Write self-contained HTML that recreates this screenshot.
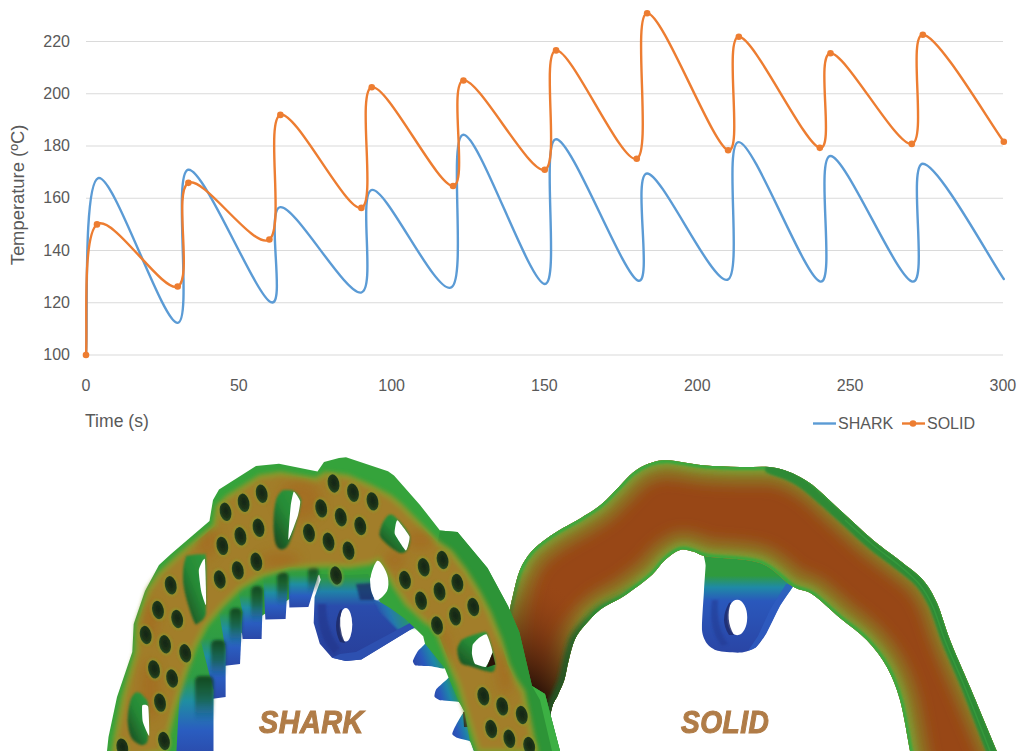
<!DOCTYPE html>
<html><head><meta charset="utf-8">
<style>
html,body{margin:0;padding:0;background:#fff;}
body{width:1024px;height:751px;position:relative;overflow:hidden;font-family:"Liberation Sans",sans-serif;color:#595959;}
.yl{position:absolute;left:20px;width:50px;text-align:right;font-size:16px;line-height:20px;}
.xl{position:absolute;top:375.5px;width:60px;text-align:center;font-size:16px;line-height:20px;}
.ytitle{position:absolute;left:18px;top:195px;transform:translate(-50%,-50%) rotate(-90deg);font-size:18.4px;white-space:nowrap;line-height:20px;}
.xtitle{position:absolute;left:85px;top:411px;font-size:17.6px;line-height:20px;white-space:nowrap;}
.leg{position:absolute;top:414px;font-size:16px;line-height:20px;}
.lab{position:absolute;top:702px;font-family:"Liberation Sans",sans-serif;font-weight:bold;font-style:italic;font-size:32px;line-height:40px;color:#b07c47;white-space:nowrap;transform-origin:0 0;-webkit-text-stroke:1.1px #b07c47;letter-spacing:0.5px;}
</style></head><body>
<svg class="chart" width="1024" height="450" viewBox="0 0 1024 450" style="position:absolute;left:0;top:0">
<line x1="86" y1="355.00" x2="1003" y2="355.00" stroke="#dadada" stroke-width="1.2"/>
<line x1="86" y1="302.75" x2="1003" y2="302.75" stroke="#dadada" stroke-width="1.2"/>
<line x1="86" y1="250.50" x2="1003" y2="250.50" stroke="#dadada" stroke-width="1.2"/>
<line x1="86" y1="198.25" x2="1003" y2="198.25" stroke="#dadada" stroke-width="1.2"/>
<line x1="86" y1="146.00" x2="1003" y2="146.00" stroke="#dadada" stroke-width="1.2"/>
<line x1="86" y1="93.75" x2="1003" y2="93.75" stroke="#dadada" stroke-width="1.2"/>
<line x1="86" y1="41.50" x2="1003" y2="41.50" stroke="#dadada" stroke-width="1.2"/>
<path d="M86.00,355.00 C88.04,325.52 82.94,183.49 98.23,178.13 C113.51,172.78 162.71,324.26 177.69,322.87 C192.66,321.47 172.54,173.21 188.08,169.77 C203.62,166.33 255.52,296.00 270.91,302.23 C286.29,308.45 265.35,208.74 280.38,207.13 C295.41,205.52 345.73,295.43 361.07,292.56 C376.40,289.69 357.30,190.76 372.38,189.89 C387.45,189.02 436.35,296.52 451.53,287.34 C466.71,278.15 447.92,135.33 463.45,134.77 C478.99,134.20 529.32,283.20 544.75,283.94 C560.18,284.68 540.52,139.77 556.06,139.21 C571.60,138.64 622.79,274.84 637.97,280.54 C653.15,286.25 632.21,173.56 647.14,173.43 C662.06,173.30 712.24,284.99 727.52,279.76 C742.80,274.53 723.34,141.78 738.83,142.08 C754.31,142.39 805.15,279.28 820.43,281.59 C835.71,283.90 815.13,155.93 830.51,155.93 C845.90,155.93 897.35,280.28 912.73,281.59 C928.11,282.89 907.64,164.20 922.81,163.77 C937.99,163.33 990.31,259.77 1003.81,278.98" fill="none" stroke="#5b9bd5" stroke-width="2.4" stroke-linecap="round" stroke-linejoin="round"/>
<path d="M86.00,355.00 C87.83,333.23 81.72,235.78 97.00,224.38 C112.28,212.97 162.46,293.48 177.69,286.55 C192.92,279.63 173.10,190.67 188.39,182.84 C203.67,175.00 254.05,250.85 269.38,239.53 C284.71,228.21 265.05,120.18 280.38,114.91 C295.71,109.64 346.14,212.53 361.37,207.92 C376.60,203.30 356.48,90.88 371.76,87.22 C387.05,83.56 437.78,187.10 453.06,185.97 C468.34,184.84 448.17,83.13 463.45,80.43 C478.73,77.73 529.32,174.78 544.75,169.77 C560.18,164.77 540.73,52.21 556.06,50.38 C571.39,48.55 621.57,164.98 636.75,158.80 C651.92,152.62 631.91,14.72 647.14,13.28 C662.37,11.85 712.85,146.26 728.13,150.18 C743.41,154.10 723.54,37.19 738.83,36.80 C754.11,36.41 804.54,145.09 819.82,147.83 C835.10,150.57 815.18,53.91 830.51,53.26 C845.85,52.60 896.43,147.00 911.81,143.91 C927.20,140.82 907.48,35.06 922.81,34.71 C938.15,34.36 990.31,123.97 1003.81,141.82" fill="none" stroke="#ed7d31" stroke-width="2.4" stroke-linecap="round" stroke-linejoin="round"/>
<circle cx="86.00" cy="355.00" r="3.3" fill="#ed7d31"/>
<circle cx="97.00" cy="224.38" r="3.3" fill="#ed7d31"/>
<circle cx="177.69" cy="286.55" r="3.3" fill="#ed7d31"/>
<circle cx="188.39" cy="182.84" r="3.3" fill="#ed7d31"/>
<circle cx="269.38" cy="239.53" r="3.3" fill="#ed7d31"/>
<circle cx="280.38" cy="114.91" r="3.3" fill="#ed7d31"/>
<circle cx="361.37" cy="207.92" r="3.3" fill="#ed7d31"/>
<circle cx="371.76" cy="87.22" r="3.3" fill="#ed7d31"/>
<circle cx="453.06" cy="185.97" r="3.3" fill="#ed7d31"/>
<circle cx="463.45" cy="80.43" r="3.3" fill="#ed7d31"/>
<circle cx="544.75" cy="169.77" r="3.3" fill="#ed7d31"/>
<circle cx="556.06" cy="50.38" r="3.3" fill="#ed7d31"/>
<circle cx="636.75" cy="158.80" r="3.3" fill="#ed7d31"/>
<circle cx="647.14" cy="13.28" r="3.3" fill="#ed7d31"/>
<circle cx="728.13" cy="150.18" r="3.3" fill="#ed7d31"/>
<circle cx="738.83" cy="36.80" r="3.3" fill="#ed7d31"/>
<circle cx="819.82" cy="147.83" r="3.3" fill="#ed7d31"/>
<circle cx="830.51" cy="53.26" r="3.3" fill="#ed7d31"/>
<circle cx="911.81" cy="143.91" r="3.3" fill="#ed7d31"/>
<circle cx="922.81" cy="34.71" r="3.3" fill="#ed7d31"/>
<circle cx="1003.81" cy="141.82" r="3.3" fill="#ed7d31"/>
<line x1="813" y1="423.5" x2="836" y2="423.5" stroke="#5b9bd5" stroke-width="2.4"/>
<line x1="902" y1="423.5" x2="925" y2="423.5" stroke="#ed7d31" stroke-width="2.4"/>
<circle cx="913" cy="423.5" r="3.3" fill="#ed7d31"/>
</svg>
<div class="yl" style="top:345.0px">100</div>
<div class="yl" style="top:292.8px">120</div>
<div class="yl" style="top:240.5px">140</div>
<div class="yl" style="top:188.2px">160</div>
<div class="yl" style="top:136.0px">180</div>
<div class="yl" style="top:83.8px">200</div>
<div class="yl" style="top:31.5px">220</div>
<div class="xl" style="left:56.0px">0</div>
<div class="xl" style="left:208.8px">50</div>
<div class="xl" style="left:361.6px">100</div>
<div class="xl" style="left:514.4px">150</div>
<div class="xl" style="left:667.3px">200</div>
<div class="xl" style="left:820.1px">250</div>
<div class="xl" style="left:972.9px">300</div>
<div class="ytitle">Temperature (ºC)</div>
<div class="xtitle">Time (s)</div>
<div class="leg" style="left:838px">SHARK</div>
<div class="leg" style="left:927px">SOLID</div>
<svg width="1024" height="751" viewBox="0 0 1024 751" style="position:absolute;left:0;top:0">
<defs>
<filter id="blur1" x="-20%" y="-20%" width="140%" height="140%"><feGaussianBlur stdDeviation="1"/></filter>
<filter id="blur15" x="-20%" y="-20%" width="140%" height="140%"><feGaussianBlur stdDeviation="1.5"/></filter>
<filter id="blur7" x="-20%" y="-20%" width="140%" height="140%"><feGaussianBlur stdDeviation="7"/></filter>
<filter id="blur2" x="-10%" y="-10%" width="120%" height="120%"><feGaussianBlur stdDeviation="2"/></filter>
<filter id="blur3" x="-10%" y="-10%" width="120%" height="120%"><feGaussianBlur stdDeviation="3"/></filter>
<filter id="blur4" x="-20%" y="-20%" width="140%" height="140%"><feGaussianBlur stdDeviation="4"/></filter>
<filter id="blur20" x="-100%" y="-100%" width="300%" height="300%"><feGaussianBlur stdDeviation="20"/></filter>
<filter id="blur6" x="-50%" y="-50%" width="200%" height="200%"><feGaussianBlur stdDeviation="6"/></filter>
<linearGradient id="gTooth" x1="0" y1="0" x2="0" y2="1">
  <stop offset="0" stop-color="#35a33b"/><stop offset="0.3" stop-color="#2f9c44"/><stop offset="0.5" stop-color="#1f8ea2"/><stop offset="0.75" stop-color="#2a5dc0"/><stop offset="1" stop-color="#2b48a8"/>
</linearGradient>
<linearGradient id="gToothL" x1="0" y1="0" x2="1" y2="0">
  <stop offset="0" stop-color="#0e2a20" stop-opacity="0.4"/><stop offset="0.45" stop-color="#0e2a20" stop-opacity="0.1"/><stop offset="1" stop-color="#0e2a20" stop-opacity="0"/>
</linearGradient>
<linearGradient id="gArm" x1="372" y1="618" x2="418" y2="598" gradientUnits="userSpaceOnUse">
  <stop offset="0" stop-color="#2a52b0" stop-opacity="0"/><stop offset="0.35" stop-color="#2478b0"/><stop offset="0.7" stop-color="#2a9a60"/><stop offset="1" stop-color="#35a33b"/>
</linearGradient>
<linearGradient id="gToothR" x1="1" y1="0.3" x2="0" y2="0.7">
  <stop offset="0" stop-color="#2f9a3e"/><stop offset="0.3" stop-color="#2a9a50"/><stop offset="0.55" stop-color="#1d86a8"/><stop offset="0.8" stop-color="#2a58bc"/><stop offset="1" stop-color="#2b4aab"/>
</linearGradient>
<linearGradient id="gBrk" x1="0" y1="562" x2="0" y2="660" gradientUnits="userSpaceOnUse">
  <stop offset="0" stop-color="#2f9a3e"/><stop offset="0.15" stop-color="#2f9a3e"/><stop offset="0.3" stop-color="#2082a8"/><stop offset="0.45" stop-color="#2a4cac"/><stop offset="1" stop-color="#283f9a"/>
</linearGradient>
<linearGradient id="gBrk2" x1="0" y1="552" x2="0" y2="650" gradientUnits="userSpaceOnUse">
  <stop offset="0" stop-color="#2f9a3e"/><stop offset="0.24" stop-color="#2f9a3e"/><stop offset="0.36" stop-color="#1f8aa6"/><stop offset="0.5" stop-color="#2a58bc"/><stop offset="1" stop-color="#2a46a6"/>
</linearGradient>
<linearGradient id="gSolid" x1="520" y1="720" x2="700" y2="480" gradientUnits="userSpaceOnUse">
  <stop offset="0" stop-color="#3a1c0a"/><stop offset="0.45" stop-color="#8a3f16"/><stop offset="1" stop-color="#974515"/>
</linearGradient>
<radialGradient id="rSolidDark" cx="532" cy="720" r="150" gradientUnits="userSpaceOnUse" gradientTransform="translate(532 720) rotate(-25) scale(0.7 1.1) translate(-532 -720)">
  <stop offset="0" stop-color="#1e0c04"/><stop offset="0.22" stop-color="#2e1408"/><stop offset="0.5" stop-color="#5a280e" stop-opacity="0.75"/><stop offset="1" stop-color="#954315" stop-opacity="0"/>
</radialGradient>
<filter id="blur05" x="-20%" y="-20%" width="140%" height="140%"><feGaussianBlur stdDeviation="0.6"/></filter>
<radialGradient id="rHole" cx="0.55" cy="0.45" r="0.6">
  <stop offset="0" stop-color="#162616"/><stop offset="0.6" stop-color="#1c3219"/><stop offset="1" stop-color="#2c5024"/>
</radialGradient>
<linearGradient id="gSlot" x1="1" y1="0" x2="0.2" y2="1">
  <stop offset="0" stop-color="#2f9a3e"/><stop offset="0.5" stop-color="#268a36"/><stop offset="1" stop-color="#1a4d22"/>
</linearGradient>
<linearGradient id="gRimDark" x1="640" y1="580" x2="570" y2="660" gradientUnits="userSpaceOnUse">
  <stop offset="0" stop-color="#1e5a26" stop-opacity="0"/><stop offset="1" stop-color="#1e5a26" stop-opacity="0.85"/>
</linearGradient>
<linearGradient id="gShade" x1="0" y1="0" x2="0" y2="1">
  <stop offset="0" stop-color="#0f3f1a" stop-opacity="0.9"/><stop offset="0.55" stop-color="#124a2a" stop-opacity="0.55"/><stop offset="1" stop-color="#1a3a80" stop-opacity="0"/>
</linearGradient>
</defs>
<path d="M706.0,545.0 C699.5,546.3 705.9,560.4 705.6,566.0 C705.3,571.6 704.3,584.3 703.9,592.0 C703.5,599.7 701.6,623.8 702.0,630.0 C702.4,636.2 705.4,641.5 707.3,644.0 C709.2,646.5 713.8,649.8 717.7,650.8 C721.6,651.8 735.6,653.0 740.2,652.6 C744.8,652.2 752.7,649.7 755.8,647.4 C758.9,645.1 763.3,638.5 766.2,633.5 C769.1,628.5 776.7,611.6 780.0,605.8 C783.3,600.0 791.6,589.3 794.0,585.0 C796.4,580.7 804.1,573.6 800.0,570.0 C795.9,566.4 771.3,558.0 760.0,555.0 C748.7,552.0 712.5,543.7 706.0,545.0 Z" fill="url(#gBrk2)"/>
<path d="M794,585 L780,605.8 L766.2,633.5 L755.8,647.4 L748,651 L758,636 L770,610 L786,584 Z" fill="#2f5cc0" opacity="0.8"/>
<path d="M712,600 Q708,630 722,646 L728,644 Q716,628 718,600 Z" fill="#22388e" opacity="0.5" filter="url(#blur1)"/>
<ellipse cx="737.2" cy="617.5" rx="10" ry="17.7" fill="#fff"/>
<path d="M729,603 Q719,620 729,635 L734,635 Q725,620 731,602 Z" fill="#1f2c6e" opacity="0.85"/>
<clipPath id="solidClip"><path d="M498.0,770.0 C498.3,766.8 499.0,766.0 500.0,751.0 C501.0,736.0 502.6,701.8 504.0,680.0 C505.4,658.2 507.1,634.2 508.6,620.0 C510.1,605.8 511.2,603.1 513.1,594.8 C515.0,586.5 516.9,577.2 519.9,570.0 C522.9,562.8 526.7,557.1 531.2,551.8 C535.7,546.5 541.7,542.2 547.0,538.3 C552.3,534.3 557.2,531.5 562.9,528.1 C568.6,524.7 574.6,521.9 581.0,517.9 C587.4,513.9 595.0,509.6 601.4,504.3 C607.8,499.0 614.2,491.5 619.5,486.2 C624.8,480.9 628.1,476.4 633.0,472.6 C637.9,468.8 643.1,465.7 648.9,463.6 C654.7,461.5 658.6,459.9 667.6,460.2 C676.6,460.5 691.0,464.1 703.1,465.2 C715.2,466.3 727.8,466.5 740.0,467.0 C752.2,467.5 764.8,465.5 776.2,468.0 C787.6,470.5 797.7,475.0 808.3,482.0 C818.9,489.0 829.2,500.3 840.0,510.0 C850.8,519.7 862.5,531.2 873.0,540.0 C883.5,548.8 894.7,556.3 903.0,563.0 C911.3,569.7 917.3,573.3 923.0,580.0 C928.7,586.7 932.5,593.0 937.0,603.0 C941.5,613.0 944.5,626.0 950.0,640.0 C955.5,654.0 962.2,668.5 970.0,687.0 C977.8,705.5 991.0,737.2 996.8,751.0 C1002.6,764.8 1003.6,766.8 1005.0,770.0 L914.0,770.0 C913.3,766.8 912.3,762.7 910.0,751.0 C907.7,739.3 903.9,714.0 900.0,700.0 C896.1,686.0 892.2,676.7 886.7,666.7 C881.2,656.7 874.5,648.1 866.7,640.0 C858.9,631.9 849.1,625.6 840.0,618.0 C830.9,610.4 820.2,599.6 812.3,594.3 C804.3,589.0 801.0,591.5 792.3,586.3 C783.6,581.1 774.0,567.9 760.0,563.0 C746.0,558.1 719.4,558.6 708.2,556.7 C697.0,554.8 697.7,552.7 693.0,551.6 C688.3,550.5 684.7,548.6 680.0,550.0 C675.3,551.4 669.6,555.9 665.0,560.0 C660.4,564.1 657.4,569.7 652.4,574.4 C647.4,579.1 640.7,584.0 635.3,588.0 C629.9,592.0 625.8,595.1 620.0,598.6 C614.2,602.1 606.4,605.0 600.7,609.3 C595.0,613.6 590.0,619.3 585.7,624.3 C581.4,629.3 577.9,633.2 575.0,639.3 C572.1,645.4 570.4,653.9 568.6,660.7 C566.8,667.5 566.1,674.3 564.3,680.0 C562.5,685.7 560.0,690.0 557.9,695.0 C555.8,700.0 553.5,700.7 551.4,710.0 C549.2,719.3 546.4,741.0 545.0,751.0 C543.6,761.0 543.3,766.8 543.0,770.0 Z"/></clipPath>
<g clip-path="url(#solidClip)">
<rect x="490" y="450" width="520" height="310" fill="#984716"/>
<path d="M498.0,770.0 C498.3,766.8 499.0,766.0 500.0,751.0 C501.0,736.0 502.6,701.8 504.0,680.0 C505.4,658.2 507.1,634.2 508.6,620.0 C510.1,605.8 511.2,603.1 513.1,594.8 C515.0,586.5 516.9,577.2 519.9,570.0 C522.9,562.8 526.7,557.1 531.2,551.8 C535.7,546.5 541.7,542.2 547.0,538.3 C552.3,534.3 557.2,531.5 562.9,528.1 C568.6,524.7 574.6,521.9 581.0,517.9 C587.4,513.9 595.0,509.6 601.4,504.3 C607.8,499.0 614.2,491.5 619.5,486.2 C624.8,480.9 628.1,476.4 633.0,472.6 C637.9,468.8 643.1,465.7 648.9,463.6 C654.7,461.5 658.6,459.9 667.6,460.2 C676.6,460.5 691.0,464.1 703.1,465.2 C715.2,466.3 727.8,466.5 740.0,467.0 C752.2,467.5 764.8,465.5 776.2,468.0 C787.6,470.5 797.7,475.0 808.3,482.0 C818.9,489.0 829.2,500.3 840.0,510.0 C850.8,519.7 862.5,531.2 873.0,540.0 C883.5,548.8 894.7,556.3 903.0,563.0 C911.3,569.7 917.3,573.3 923.0,580.0 C928.7,586.7 932.5,593.0 937.0,603.0 C941.5,613.0 944.5,626.0 950.0,640.0 C955.5,654.0 962.2,668.5 970.0,687.0 C977.8,705.5 991.0,737.2 996.8,751.0 C1002.6,764.8 1003.6,766.8 1005.0,770.0 M914.0,770.0 C913.3,766.8 912.3,762.7 910.0,751.0 C907.7,739.3 903.9,714.0 900.0,700.0 C896.1,686.0 892.2,676.7 886.7,666.7 C881.2,656.7 874.5,648.1 866.7,640.0 C858.9,631.9 849.1,625.6 840.0,618.0 C830.9,610.4 820.2,599.6 812.3,594.3 C804.3,589.0 801.0,591.5 792.3,586.3 C783.6,581.1 774.0,567.9 760.0,563.0 C746.0,558.1 719.4,558.6 708.2,556.7 C697.0,554.8 697.7,552.7 693.0,551.6 C688.3,550.5 684.7,548.6 680.0,550.0 C675.3,551.4 669.6,555.9 665.0,560.0 C660.4,564.1 657.4,569.7 652.4,574.4 C647.4,579.1 640.7,584.0 635.3,588.0 C629.9,592.0 625.8,595.1 620.0,598.6 C614.2,602.1 606.4,605.0 600.7,609.3 C595.0,613.6 590.0,619.3 585.7,624.3 C581.4,629.3 577.9,633.2 575.0,639.3 C572.1,645.4 570.4,653.9 568.6,660.7 C566.8,667.5 566.1,674.3 564.3,680.0 C562.5,685.7 560.0,690.0 557.9,695.0 C555.8,700.0 553.5,700.7 551.4,710.0 C549.2,719.3 546.4,741.0 545.0,751.0 C543.6,761.0 543.3,766.8 543.0,770.0" fill="none" stroke="#8a7c28" stroke-width="34" filter="url(#blur7)"/>
<path d="M498.0,770.0 C498.3,766.8 499.0,766.0 500.0,751.0 C501.0,736.0 502.6,701.8 504.0,680.0 C505.4,658.2 507.1,634.2 508.6,620.0 C510.1,605.8 511.2,603.1 513.1,594.8 C515.0,586.5 516.9,577.2 519.9,570.0 C522.9,562.8 526.7,557.1 531.2,551.8 C535.7,546.5 541.7,542.2 547.0,538.3 C552.3,534.3 557.2,531.5 562.9,528.1 C568.6,524.7 574.6,521.9 581.0,517.9 C587.4,513.9 595.0,509.6 601.4,504.3 C607.8,499.0 614.2,491.5 619.5,486.2 C624.8,480.9 628.1,476.4 633.0,472.6 C637.9,468.8 643.1,465.7 648.9,463.6 C654.7,461.5 658.6,459.9 667.6,460.2 C676.6,460.5 691.0,464.1 703.1,465.2 C715.2,466.3 727.8,466.5 740.0,467.0 C752.2,467.5 764.8,465.5 776.2,468.0 C787.6,470.5 797.7,475.0 808.3,482.0 C818.9,489.0 829.2,500.3 840.0,510.0 C850.8,519.7 862.5,531.2 873.0,540.0 C883.5,548.8 894.7,556.3 903.0,563.0 C911.3,569.7 917.3,573.3 923.0,580.0 C928.7,586.7 932.5,593.0 937.0,603.0 C941.5,613.0 944.5,626.0 950.0,640.0 C955.5,654.0 962.2,668.5 970.0,687.0 C977.8,705.5 991.0,737.2 996.8,751.0 C1002.6,764.8 1003.6,766.8 1005.0,770.0 M914.0,770.0 C913.3,766.8 912.3,762.7 910.0,751.0 C907.7,739.3 903.9,714.0 900.0,700.0 C896.1,686.0 892.2,676.7 886.7,666.7 C881.2,656.7 874.5,648.1 866.7,640.0 C858.9,631.9 849.1,625.6 840.0,618.0 C830.9,610.4 820.2,599.6 812.3,594.3 C804.3,589.0 801.0,591.5 792.3,586.3 C783.6,581.1 774.0,567.9 760.0,563.0 C746.0,558.1 719.4,558.6 708.2,556.7 C697.0,554.8 697.7,552.7 693.0,551.6 C688.3,550.5 684.7,548.6 680.0,550.0 C675.3,551.4 669.6,555.9 665.0,560.0 C660.4,564.1 657.4,569.7 652.4,574.4 C647.4,579.1 640.7,584.0 635.3,588.0 C629.9,592.0 625.8,595.1 620.0,598.6 C614.2,602.1 606.4,605.0 600.7,609.3 C595.0,613.6 590.0,619.3 585.7,624.3 C581.4,629.3 577.9,633.2 575.0,639.3 C572.1,645.4 570.4,653.9 568.6,660.7 C566.8,667.5 566.1,674.3 564.3,680.0 C562.5,685.7 560.0,690.0 557.9,695.0 C555.8,700.0 553.5,700.7 551.4,710.0 C549.2,719.3 546.4,741.0 545.0,751.0 C543.6,761.0 543.3,766.8 543.0,770.0" fill="none" stroke="#7e9a30" stroke-width="14" filter="url(#blur3)"/>
<path d="M498.0,770.0 C498.3,766.8 499.0,766.0 500.0,751.0 C501.0,736.0 502.6,701.8 504.0,680.0 C505.4,658.2 507.1,634.2 508.6,620.0 C510.1,605.8 511.2,603.1 513.1,594.8 C515.0,586.5 516.9,577.2 519.9,570.0 C522.9,562.8 526.7,557.1 531.2,551.8 C535.7,546.5 541.7,542.2 547.0,538.3 C552.3,534.3 557.2,531.5 562.9,528.1 C568.6,524.7 574.6,521.9 581.0,517.9 C587.4,513.9 595.0,509.6 601.4,504.3 C607.8,499.0 614.2,491.5 619.5,486.2 C624.8,480.9 628.1,476.4 633.0,472.6 C637.9,468.8 643.1,465.7 648.9,463.6 C654.7,461.5 658.6,459.9 667.6,460.2 C676.6,460.5 691.0,464.1 703.1,465.2 C715.2,466.3 727.8,466.5 740.0,467.0 C752.2,467.5 764.8,465.5 776.2,468.0 C787.6,470.5 797.7,475.0 808.3,482.0 C818.9,489.0 829.2,500.3 840.0,510.0 C850.8,519.7 862.5,531.2 873.0,540.0 C883.5,548.8 894.7,556.3 903.0,563.0 C911.3,569.7 917.3,573.3 923.0,580.0 C928.7,586.7 932.5,593.0 937.0,603.0 C941.5,613.0 944.5,626.0 950.0,640.0 C955.5,654.0 962.2,668.5 970.0,687.0 C977.8,705.5 991.0,737.2 996.8,751.0 C1002.6,764.8 1003.6,766.8 1005.0,770.0 M914.0,770.0 C913.3,766.8 912.3,762.7 910.0,751.0 C907.7,739.3 903.9,714.0 900.0,700.0 C896.1,686.0 892.2,676.7 886.7,666.7 C881.2,656.7 874.5,648.1 866.7,640.0 C858.9,631.9 849.1,625.6 840.0,618.0 C830.9,610.4 820.2,599.6 812.3,594.3 C804.3,589.0 801.0,591.5 792.3,586.3 C783.6,581.1 774.0,567.9 760.0,563.0 C746.0,558.1 719.4,558.6 708.2,556.7 C697.0,554.8 697.7,552.7 693.0,551.6 C688.3,550.5 684.7,548.6 680.0,550.0 C675.3,551.4 669.6,555.9 665.0,560.0 C660.4,564.1 657.4,569.7 652.4,574.4 C647.4,579.1 640.7,584.0 635.3,588.0 C629.9,592.0 625.8,595.1 620.0,598.6 C614.2,602.1 606.4,605.0 600.7,609.3 C595.0,613.6 590.0,619.3 585.7,624.3 C581.4,629.3 577.9,633.2 575.0,639.3 C572.1,645.4 570.4,653.9 568.6,660.7 C566.8,667.5 566.1,674.3 564.3,680.0 C562.5,685.7 560.0,690.0 557.9,695.0 C555.8,700.0 553.5,700.7 551.4,710.0 C549.2,719.3 546.4,741.0 545.0,751.0 C543.6,761.0 543.3,766.8 543.0,770.0" fill="none" stroke="#3aa83e" stroke-width="6" filter="url(#blur1)"/>
<rect x="490" y="450" width="200" height="310" fill="url(#rSolidDark)"/>
<path d="M652.0,574.0 C649.2,576.3 640.3,583.9 635.0,588.0 C629.7,592.1 625.7,595.1 620.0,598.6 C614.3,602.1 606.4,605.0 600.7,609.3 C595.0,613.6 590.0,619.3 585.7,624.3 C581.4,629.3 577.9,633.2 575.0,639.3 C572.1,645.4 570.4,653.9 568.6,660.7 C566.8,667.5 566.1,674.3 564.3,680.0 C562.5,685.7 560.0,690.0 557.9,695.0 C555.8,700.0 553.5,700.7 551.4,710.0 C549.2,719.3 546.4,741.0 545.0,751.0 C543.6,761.0 543.3,766.8 543.0,770.0" fill="none" stroke="url(#gRimDark)" stroke-width="12" filter="url(#blur2)"/>
<path d="M770.0,463.0 C773.6,462.7 784.3,467.1 790.0,470.0 C795.7,472.9 800.8,476.0 808.3,482.0 C815.8,488.0 830.3,501.3 840.0,510.0 C849.7,518.7 863.5,532.0 873.0,540.0 C882.5,548.0 895.5,557.0 903.0,563.0 C910.5,569.0 917.9,574.0 923.0,580.0 C928.1,586.0 933.0,594.0 937.0,603.0 C941.0,612.0 945.0,627.4 950.0,640.0 C955.0,652.6 962.5,669.0 970.0,687.0 C977.5,705.0 997.0,749.0 1000.0,760.0 C1003.0,771.0 995.7,770.5 990.0,760.0 C984.3,749.5 969.2,707.5 962.0,690.0 C954.8,672.5 947.0,655.5 942.0,643.0 C937.0,630.5 932.9,615.5 929.0,607.0 C925.1,598.5 920.8,591.5 916.0,586.0 C911.2,580.5 904.4,575.9 897.0,570.0 C889.6,564.1 876.5,555.0 867.0,547.0 C857.5,539.0 843.6,525.5 834.0,517.0 C824.4,508.4 810.2,495.6 803.0,490.0 C795.8,484.4 791.5,482.7 786.0,480.0 C780.5,477.3 768.4,474.6 766.0,472.0 C763.6,469.4 766.4,463.3 770.0,463.0 Z" fill="#2e8a36" filter="url(#blur1)"/>
<path d="M845.0,520.0 C849.7,524.2 863.8,537.3 873.0,545.0 C882.2,552.7 892.2,559.3 900.0,566.0 C907.8,572.7 914.5,578.2 920.0,585.0 C925.5,591.8 928.7,597.3 933.0,607.0 C937.3,616.7 940.5,629.2 946.0,643.0 C951.5,656.8 958.7,672.0 966.0,690.0 C973.3,708.0 986.0,740.8 990.0,751.0" fill="none" stroke="#3aa240" stroke-width="1.6" opacity="0.6" filter="url(#blur05)"/>
</g>
<polygon points="320.7,579.8 314.6,597.0 313.7,623.0 319.8,643.8 332.0,657.7 345.8,661.1 361.3,659.4 409.8,630.0 416.7,626.5 404.0,612.0 390.0,606.0 374.3,599.7 370.0,579.8 373.0,560.0 315.0,560.0" fill="url(#gBrk)"/>
<polygon points="374,600 386,596 395,586 407,604 425,621 432,632 414,628 398,630 380,612" fill="url(#gArm)" filter="url(#blur1)"/>
<polygon points="332,657.7 345.8,661.1 361.3,659.4 409.8,630 416.7,626.5 410,623 356,652 340,654" fill="#2d50b0"/>
<path d="M318,604 Q316,636 334,654 L340,648 Q326,630 326,604 Z" fill="#22368a" opacity="0.6" filter="url(#blur1)"/>
<polygon points="356,584 372,583 374,600 360,600" fill="#1e2a66" opacity="0.75" filter="url(#blur1)"/>
<ellipse cx="345.8" cy="624.8" rx="6.5" ry="16.8" fill="#fff"/>
<path d="M340,610 Q332,626 340,642 L345,643 Q337,626 342,609 Z" fill="#1d2a66" opacity="0.85"/>
<path d="M425.0,643.8 C423.8,645.4 418.6,650.0 417.6,651.4 C416.6,652.8 413.1,659.7 412.9,660.8 C412.7,661.9 414.1,665.1 415.7,665.5 C417.3,665.9 430.3,666.2 432.6,666.4 C434.9,666.6 443.4,669.2 444.8,668.3 C446.2,667.4 451.0,657.9 450.0,655.0 C449.0,652.1 434.0,632.9 432.0,632.0 C430.0,631.1 426.2,642.2 425.0,643.8 Z" fill="url(#gToothR)"/>
<path d="M448.6,677.7 C447.4,679.1 437.5,687.5 436.4,689.0 C435.3,690.5 434.2,695.6 434.5,696.5 C434.8,697.4 438.1,699.8 440.1,700.2 C442.1,700.6 456.9,701.2 458.9,702.1 C460.9,703.0 463.9,712.5 464.5,711.5 C465.1,710.5 467.0,693.2 466.0,690.0 C465.0,686.8 453.4,673.0 452.0,672.0 C450.6,671.0 449.8,676.3 448.6,677.7 Z" fill="url(#gToothR)"/>
<path d="M464.5,711.5 C462.7,712.7 456.2,724.7 455.2,726.5 C454.2,728.3 452.2,733.1 452.3,734.0 C452.4,734.9 455.6,737.2 457.0,737.8 C458.4,738.4 468.8,740.5 470.2,741.6 C471.6,742.7 472.9,750.2 474.0,751.0 C475.1,751.8 483.7,754.1 484.0,751.0 C484.3,747.9 479.6,715.2 478.0,712.0 C476.4,708.8 466.3,710.3 464.5,711.5 Z" fill="url(#gToothR)"/>
<polygon points="463,712 470,710 472,727 464,727" fill="#2a1a10" opacity="0.8"/>
<path d="M105.0,760.0 L107.0,751.0 L108.5,737.0 L117.0,697.0 L132.3,652.0 L133.7,624.0 L145.0,591.0 L159.0,565.0 L171.0,554.0 L209.5,521.0 L213.0,500.0 L219.0,489.5 L256.0,466.0 L279.0,463.8 L317.5,471.5 L324.0,462.0 L339.0,458.0 L346.0,457.3 L388.0,471.3 L394.0,475.6 L420.0,505.0 L440.0,530.5 L457.5,532.0 L487.5,568.0 L508.0,606.0 L519.3,632.0 L532.0,686.0 L545.0,694.0 L560.0,751.0 L563.0,760.0 L474.0,751.0 L470.0,741.0 L464.5,711.5 L458.9,702.0 L448.6,677.7 L444.8,668.3 L425.0,643.8 L423.2,636.3 L413.8,627.0 L404.0,618.0 L390.0,608.0 L380.0,602.0 L372.0,580.0 L368.0,574.0 L349.0,575.0 L320.0,574.0 L300.0,590.0 L288.0,600.0 L263.0,615.0 L239.0,635.0 L219.0,660.0 L202.0,695.0 L186.0,740.0 L184.0,751.0 Z" fill="#35a33b"/>
<polygon points="440.0,530.5 457.5,532.0 487.5,568.0 508.0,606.0 519.3,632.0 532.0,686.0 545.0,694.0 560.0,751.0 536.0,751.0 533.0,740.0 523.0,692.0 515.0,680.0 507.6,664.6 500.0,640.0 489.0,613.0 478.0,592.0 465.0,571.0 450.0,551.6 437.5,543.0" fill="#2d9437"/>
<polygon points="532,686 545,694 560,751 552,751 540,700" fill="#3cb043"/>
<polygon points="288.0,566.0 320.0,561.0 318.5,574.0 308.4,607.0 289.4,607.5" fill="url(#gTooth)"/>
<polygon points="263.0,576.0 289.0,566.0 288.0,577.8 285.6,619.0 265.4,619.5" fill="url(#gTooth)"/>
<polygon points="237.6,590.0 263.0,576.0 262.9,590.4 261.6,639.0 242.6,639.0" fill="url(#gTooth)"/>
<polygon points="218.0,612.0 238.0,590.0 242.5,612.0 240.0,664.0 219.0,666.5" fill="url(#gTooth)"/>
<polygon points="200.0,642.0 219.0,612.0 225.6,650.0 225.6,697.0 204.0,700.0" fill="url(#gTooth)"/>
<polygon points="180.0,684.0 201.0,642.0 213.5,690.0 213.5,760.0 176.0,760.0" fill="url(#gTooth)"/>
<g filter="url(#blur15)">
<rect x="308.0" y="566.0" width="10.5" height="28.0" rx="5" fill="url(#gShade)"/>
<rect x="277.0" y="572.0" width="11.5" height="34.0" rx="5" fill="url(#gShade)"/>
<rect x="251.0" y="586.0" width="12.0" height="37.0" rx="5" fill="url(#gShade)"/>
<rect x="229.6" y="608.0" width="12.4" height="37.0" rx="5" fill="url(#gShade)"/>
<rect x="211.0" y="640.0" width="14.6" height="38.0" rx="5" fill="url(#gShade)"/>
<rect x="195.0" y="676.0" width="18.5" height="46.0" rx="5" fill="url(#gShade)"/>
</g>
<clipPath id="faceClip"><path d="M113.0,760.0 L114.0,751.0 L116.0,737.0 L124.0,697.0 L137.0,652.0 L138.0,624.0 L149.0,590.0 L160.0,574.0 L177.0,558.0 L215.0,526.0 L218.0,507.0 L228.0,497.0 L260.0,477.0 L280.0,474.0 L316.0,480.0 L326.0,474.0 L348.0,477.0 L371.0,487.0 L390.0,497.0 L401.0,506.0 L422.6,528.0 L437.5,543.0 L450.0,551.6 L465.0,571.0 L478.0,592.0 L489.0,613.0 L500.0,640.0 L507.6,664.6 L515.0,680.0 L523.0,692.0 L533.0,740.0 L536.0,751.0 L479.0,751.0 L476.0,742.0 L470.0,723.0 L464.5,704.0 L459.0,685.0 L451.0,666.0 L444.0,648.0 L436.0,628.0 L425.0,621.0 L407.0,604.0 L395.0,586.0 L386.0,569.0 L379.0,559.0 L370.0,563.0 L349.0,566.0 L326.0,565.0 L288.5,567.0 L261.7,575.0 L240.0,587.5 L221.6,606.0 L205.5,625.0 L194.8,646.0 L184.0,676.0 L173.4,710.6 L165.4,742.8 L163.0,751.0 Z"/></clipPath>
<path d="M113.0,760.0 L114.0,751.0 L116.0,737.0 L124.0,697.0 L137.0,652.0 L138.0,624.0 L149.0,590.0 L160.0,574.0 L177.0,558.0 L215.0,526.0 L218.0,507.0 L228.0,497.0 L260.0,477.0 L280.0,474.0 L316.0,480.0 L326.0,474.0 L348.0,477.0 L371.0,487.0 L390.0,497.0 L401.0,506.0 L422.6,528.0 L437.5,543.0 L450.0,551.6 L465.0,571.0 L478.0,592.0 L489.0,613.0 L500.0,640.0 L507.6,664.6 L515.0,680.0 L523.0,692.0 L533.0,740.0 L536.0,751.0 L479.0,751.0 L476.0,742.0 L470.0,723.0 L464.5,704.0 L459.0,685.0 L451.0,666.0 L444.0,648.0 L436.0,628.0 L425.0,621.0 L407.0,604.0 L395.0,586.0 L386.0,569.0 L379.0,559.0 L370.0,563.0 L349.0,566.0 L326.0,565.0 L288.5,567.0 L261.7,575.0 L240.0,587.5 L221.6,606.0 L205.5,625.0 L194.8,646.0 L184.0,676.0 L173.4,710.6 L165.4,742.8 L163.0,751.0 Z" fill="#a27e2a" stroke="#8c962c" stroke-width="5" stroke-linejoin="round" filter="url(#blur2)"/>
<g clip-path="url(#faceClip)"><g filter="url(#blur6)" opacity="0.5">
<ellipse cx="300" cy="500" rx="22" ry="20" fill="#a5621c"/>
<ellipse cx="207" cy="540" rx="10" ry="18" fill="#a5621c"/>
<ellipse cx="150" cy="690" rx="10" ry="30" fill="#a5621c"/>
<ellipse cx="280" cy="560" rx="20" ry="8" fill="#a5621c"/>
<ellipse cx="395" cy="560" rx="10" ry="10" fill="#a5621c"/>
<ellipse cx="440" cy="650" rx="10" ry="20" fill="#a5621c"/>
<ellipse cx="505" cy="670" rx="8" ry="25" fill="#a5621c"/>
<ellipse cx="420" cy="540" rx="15" ry="10" fill="#a5621c"/>
<ellipse cx="150" cy="620" rx="8" ry="20" fill="#a5621c"/>
</g></g>
<g filter="url(#blur1)">
<ellipse cx="261.7" cy="493.7" rx="7.6" ry="11.2" fill="#8a9a2e" opacity="0.55" transform="rotate(-12 261.7 493.7)"/>
<ellipse cx="243.6" cy="502.8" rx="7.6" ry="11.2" fill="#8a9a2e" opacity="0.55" transform="rotate(-12 243.6 502.8)"/>
<ellipse cx="225.5" cy="511.8" rx="7.6" ry="11.2" fill="#8a9a2e" opacity="0.55" transform="rotate(-12 225.5 511.8)"/>
<ellipse cx="258.5" cy="527.8" rx="7.6" ry="11.2" fill="#8a9a2e" opacity="0.55" transform="rotate(-12 258.5 527.8)"/>
<ellipse cx="240.4" cy="536.3" rx="7.6" ry="11.2" fill="#8a9a2e" opacity="0.55" transform="rotate(-12 240.4 536.3)"/>
<ellipse cx="222.3" cy="545.9" rx="7.6" ry="11.2" fill="#8a9a2e" opacity="0.55" transform="rotate(-12 222.3 545.9)"/>
<ellipse cx="256.3" cy="561.8" rx="7.6" ry="11.2" fill="#8a9a2e" opacity="0.55" transform="rotate(-12 256.3 561.8)"/>
<ellipse cx="237.8" cy="570.4" rx="7.6" ry="11.2" fill="#8a9a2e" opacity="0.55" transform="rotate(-12 237.8 570.4)"/>
<ellipse cx="219.7" cy="579.5" rx="7.6" ry="11.2" fill="#8a9a2e" opacity="0.55" transform="rotate(-12 219.7 579.5)"/>
<ellipse cx="170.7" cy="585.3" rx="7.6" ry="11.2" fill="#8a9a2e" opacity="0.55" transform="rotate(-12 170.7 585.3)"/>
<ellipse cx="158.0" cy="610.0" rx="7.6" ry="11.2" fill="#8a9a2e" opacity="0.55" transform="rotate(-12 158.0 610.0)"/>
<ellipse cx="333.5" cy="483.5" rx="7.6" ry="11.2" fill="#8a9a2e" opacity="0.55" transform="rotate(-12 333.5 483.5)"/>
<ellipse cx="353.0" cy="492.7" rx="7.6" ry="11.2" fill="#8a9a2e" opacity="0.55" transform="rotate(-12 353.0 492.7)"/>
<ellipse cx="372.5" cy="501.4" rx="7.6" ry="11.2" fill="#8a9a2e" opacity="0.55" transform="rotate(-12 372.5 501.4)"/>
<ellipse cx="321.2" cy="508.4" rx="7.6" ry="11.2" fill="#8a9a2e" opacity="0.55" transform="rotate(-12 321.2 508.4)"/>
<ellipse cx="340.8" cy="517.2" rx="7.6" ry="11.2" fill="#8a9a2e" opacity="0.55" transform="rotate(-12 340.8 517.2)"/>
<ellipse cx="360.3" cy="526.0" rx="7.6" ry="11.2" fill="#8a9a2e" opacity="0.55" transform="rotate(-12 360.3 526.0)"/>
<ellipse cx="309.0" cy="533.0" rx="7.6" ry="11.2" fill="#8a9a2e" opacity="0.55" transform="rotate(-12 309.0 533.0)"/>
<ellipse cx="328.5" cy="541.8" rx="7.6" ry="11.2" fill="#8a9a2e" opacity="0.55" transform="rotate(-12 328.5 541.8)"/>
<ellipse cx="348.5" cy="550.7" rx="7.6" ry="11.2" fill="#8a9a2e" opacity="0.55" transform="rotate(-12 348.5 550.7)"/>
<ellipse cx="336.0" cy="575.5" rx="7.6" ry="11.2" fill="#8a9a2e" opacity="0.55" transform="rotate(-12 336.0 575.5)"/>
<ellipse cx="442.6" cy="560.0" rx="7.6" ry="11.2" fill="#8a9a2e" opacity="0.55" transform="rotate(-12 442.6 560.0)"/>
<ellipse cx="423.7" cy="567.3" rx="7.6" ry="11.2" fill="#8a9a2e" opacity="0.55" transform="rotate(-12 423.7 567.3)"/>
<ellipse cx="405.0" cy="580.0" rx="7.6" ry="11.2" fill="#8a9a2e" opacity="0.55" transform="rotate(-12 405.0 580.0)"/>
<ellipse cx="457.4" cy="583.0" rx="7.6" ry="11.2" fill="#8a9a2e" opacity="0.55" transform="rotate(-12 457.4 583.0)"/>
<ellipse cx="439.5" cy="591.5" rx="7.6" ry="11.2" fill="#8a9a2e" opacity="0.55" transform="rotate(-12 439.5 591.5)"/>
<ellipse cx="421.0" cy="600.7" rx="7.6" ry="11.2" fill="#8a9a2e" opacity="0.55" transform="rotate(-12 421.0 600.7)"/>
<ellipse cx="473.3" cy="607.0" rx="7.6" ry="11.2" fill="#8a9a2e" opacity="0.55" transform="rotate(-12 473.3 607.0)"/>
<ellipse cx="455.0" cy="616.4" rx="7.6" ry="11.2" fill="#8a9a2e" opacity="0.55" transform="rotate(-12 455.0 616.4)"/>
<ellipse cx="437.0" cy="625.5" rx="7.6" ry="11.2" fill="#8a9a2e" opacity="0.55" transform="rotate(-12 437.0 625.5)"/>
<ellipse cx="483.3" cy="696.3" rx="7.6" ry="11.2" fill="#8a9a2e" opacity="0.55" transform="rotate(-12 483.3 696.3)"/>
<ellipse cx="502.2" cy="706.4" rx="7.6" ry="11.2" fill="#8a9a2e" opacity="0.55" transform="rotate(-12 502.2 706.4)"/>
<ellipse cx="521.8" cy="715.0" rx="7.6" ry="11.2" fill="#8a9a2e" opacity="0.55" transform="rotate(-12 521.8 715.0)"/>
<ellipse cx="491.2" cy="729.0" rx="7.6" ry="11.2" fill="#8a9a2e" opacity="0.55" transform="rotate(-12 491.2 729.0)"/>
<ellipse cx="509.3" cy="738.8" rx="7.6" ry="11.2" fill="#8a9a2e" opacity="0.55" transform="rotate(-12 509.3 738.8)"/>
<ellipse cx="529.2" cy="746.0" rx="7.6" ry="11.2" fill="#8a9a2e" opacity="0.55" transform="rotate(-12 529.2 746.0)"/>
<ellipse cx="177.2" cy="619.0" rx="7.6" ry="11.2" fill="#8a9a2e" opacity="0.55" transform="rotate(-12 177.2 619.0)"/>
<ellipse cx="165.0" cy="644.3" rx="7.6" ry="11.2" fill="#8a9a2e" opacity="0.55" transform="rotate(-12 165.0 644.3)"/>
<ellipse cx="185.2" cy="653.3" rx="7.6" ry="11.2" fill="#8a9a2e" opacity="0.55" transform="rotate(-12 185.2 653.3)"/>
<ellipse cx="154.0" cy="669.4" rx="7.6" ry="11.2" fill="#8a9a2e" opacity="0.55" transform="rotate(-12 154.0 669.4)"/>
<ellipse cx="172.1" cy="678.5" rx="7.6" ry="11.2" fill="#8a9a2e" opacity="0.55" transform="rotate(-12 172.1 678.5)"/>
<ellipse cx="160.0" cy="702.6" rx="7.6" ry="11.2" fill="#8a9a2e" opacity="0.55" transform="rotate(-12 160.0 702.6)"/>
<ellipse cx="122.3" cy="747.6" rx="7.6" ry="11.2" fill="#8a9a2e" opacity="0.55" transform="rotate(-12 122.3 747.6)"/>
<ellipse cx="164.0" cy="741.0" rx="7.6" ry="11.2" fill="#8a9a2e" opacity="0.55" transform="rotate(-12 164.0 741.0)"/>
<ellipse cx="145.7" cy="635.0" rx="7.6" ry="11.2" fill="#8a9a2e" opacity="0.55" transform="rotate(-12 145.7 635.0)"/>
</g><g filter="url(#blur05)">
<ellipse cx="261.7" cy="493.7" rx="5.8" ry="9.3" fill="url(#rHole)" transform="rotate(-12 261.7 493.7)"/>
<ellipse cx="243.6" cy="502.8" rx="5.8" ry="9.3" fill="url(#rHole)" transform="rotate(-12 243.6 502.8)"/>
<ellipse cx="225.5" cy="511.8" rx="5.8" ry="9.3" fill="url(#rHole)" transform="rotate(-12 225.5 511.8)"/>
<ellipse cx="258.5" cy="527.8" rx="5.8" ry="9.3" fill="url(#rHole)" transform="rotate(-12 258.5 527.8)"/>
<ellipse cx="240.4" cy="536.3" rx="5.8" ry="9.3" fill="url(#rHole)" transform="rotate(-12 240.4 536.3)"/>
<ellipse cx="222.3" cy="545.9" rx="5.8" ry="9.3" fill="url(#rHole)" transform="rotate(-12 222.3 545.9)"/>
<ellipse cx="256.3" cy="561.8" rx="5.8" ry="9.3" fill="url(#rHole)" transform="rotate(-12 256.3 561.8)"/>
<ellipse cx="237.8" cy="570.4" rx="5.8" ry="9.3" fill="url(#rHole)" transform="rotate(-12 237.8 570.4)"/>
<ellipse cx="219.7" cy="579.5" rx="5.8" ry="9.3" fill="url(#rHole)" transform="rotate(-12 219.7 579.5)"/>
<ellipse cx="170.7" cy="585.3" rx="5.8" ry="9.3" fill="url(#rHole)" transform="rotate(-12 170.7 585.3)"/>
<ellipse cx="158.0" cy="610.0" rx="5.8" ry="9.3" fill="url(#rHole)" transform="rotate(-12 158.0 610.0)"/>
<ellipse cx="333.5" cy="483.5" rx="5.8" ry="9.3" fill="url(#rHole)" transform="rotate(-12 333.5 483.5)"/>
<ellipse cx="353.0" cy="492.7" rx="5.8" ry="9.3" fill="url(#rHole)" transform="rotate(-12 353.0 492.7)"/>
<ellipse cx="372.5" cy="501.4" rx="5.8" ry="9.3" fill="url(#rHole)" transform="rotate(-12 372.5 501.4)"/>
<ellipse cx="321.2" cy="508.4" rx="5.8" ry="9.3" fill="url(#rHole)" transform="rotate(-12 321.2 508.4)"/>
<ellipse cx="340.8" cy="517.2" rx="5.8" ry="9.3" fill="url(#rHole)" transform="rotate(-12 340.8 517.2)"/>
<ellipse cx="360.3" cy="526.0" rx="5.8" ry="9.3" fill="url(#rHole)" transform="rotate(-12 360.3 526.0)"/>
<ellipse cx="309.0" cy="533.0" rx="5.8" ry="9.3" fill="url(#rHole)" transform="rotate(-12 309.0 533.0)"/>
<ellipse cx="328.5" cy="541.8" rx="5.8" ry="9.3" fill="url(#rHole)" transform="rotate(-12 328.5 541.8)"/>
<ellipse cx="348.5" cy="550.7" rx="5.8" ry="9.3" fill="url(#rHole)" transform="rotate(-12 348.5 550.7)"/>
<ellipse cx="336.0" cy="575.5" rx="5.8" ry="9.3" fill="url(#rHole)" transform="rotate(-12 336.0 575.5)"/>
<ellipse cx="442.6" cy="560.0" rx="5.8" ry="9.3" fill="url(#rHole)" transform="rotate(-12 442.6 560.0)"/>
<ellipse cx="423.7" cy="567.3" rx="5.8" ry="9.3" fill="url(#rHole)" transform="rotate(-12 423.7 567.3)"/>
<ellipse cx="405.0" cy="580.0" rx="5.8" ry="9.3" fill="url(#rHole)" transform="rotate(-12 405.0 580.0)"/>
<ellipse cx="457.4" cy="583.0" rx="5.8" ry="9.3" fill="url(#rHole)" transform="rotate(-12 457.4 583.0)"/>
<ellipse cx="439.5" cy="591.5" rx="5.8" ry="9.3" fill="url(#rHole)" transform="rotate(-12 439.5 591.5)"/>
<ellipse cx="421.0" cy="600.7" rx="5.8" ry="9.3" fill="url(#rHole)" transform="rotate(-12 421.0 600.7)"/>
<ellipse cx="473.3" cy="607.0" rx="5.8" ry="9.3" fill="url(#rHole)" transform="rotate(-12 473.3 607.0)"/>
<ellipse cx="455.0" cy="616.4" rx="5.8" ry="9.3" fill="url(#rHole)" transform="rotate(-12 455.0 616.4)"/>
<ellipse cx="437.0" cy="625.5" rx="5.8" ry="9.3" fill="url(#rHole)" transform="rotate(-12 437.0 625.5)"/>
<ellipse cx="483.3" cy="696.3" rx="5.8" ry="9.3" fill="url(#rHole)" transform="rotate(-12 483.3 696.3)"/>
<ellipse cx="502.2" cy="706.4" rx="5.8" ry="9.3" fill="url(#rHole)" transform="rotate(-12 502.2 706.4)"/>
<ellipse cx="521.8" cy="715.0" rx="5.8" ry="9.3" fill="url(#rHole)" transform="rotate(-12 521.8 715.0)"/>
<ellipse cx="491.2" cy="729.0" rx="5.8" ry="9.3" fill="url(#rHole)" transform="rotate(-12 491.2 729.0)"/>
<ellipse cx="509.3" cy="738.8" rx="5.8" ry="9.3" fill="url(#rHole)" transform="rotate(-12 509.3 738.8)"/>
<ellipse cx="529.2" cy="746.0" rx="5.8" ry="9.3" fill="url(#rHole)" transform="rotate(-12 529.2 746.0)"/>
<ellipse cx="177.2" cy="619.0" rx="5.8" ry="9.3" fill="url(#rHole)" transform="rotate(-12 177.2 619.0)"/>
<ellipse cx="165.0" cy="644.3" rx="5.8" ry="9.3" fill="url(#rHole)" transform="rotate(-12 165.0 644.3)"/>
<ellipse cx="185.2" cy="653.3" rx="5.8" ry="9.3" fill="url(#rHole)" transform="rotate(-12 185.2 653.3)"/>
<ellipse cx="154.0" cy="669.4" rx="5.8" ry="9.3" fill="url(#rHole)" transform="rotate(-12 154.0 669.4)"/>
<ellipse cx="172.1" cy="678.5" rx="5.8" ry="9.3" fill="url(#rHole)" transform="rotate(-12 172.1 678.5)"/>
<ellipse cx="160.0" cy="702.6" rx="5.8" ry="9.3" fill="url(#rHole)" transform="rotate(-12 160.0 702.6)"/>
<ellipse cx="122.3" cy="747.6" rx="5.8" ry="9.3" fill="url(#rHole)" transform="rotate(-12 122.3 747.6)"/>
<ellipse cx="164.0" cy="741.0" rx="5.8" ry="9.3" fill="url(#rHole)" transform="rotate(-12 164.0 741.0)"/>
<ellipse cx="145.7" cy="635.0" rx="5.8" ry="9.3" fill="url(#rHole)" transform="rotate(-12 145.7 635.0)"/>
</g>
<g filter="url(#blur1)">
<path d="M188.0,555.6 C190.8,555.0 199.4,553.8 202.4,554.4 C205.4,555.0 205.4,550.4 206.0,559.2 C206.6,568.0 206.2,597.4 206.0,607.0 C205.8,616.6 206.0,614.1 204.8,616.7 C203.6,619.3 200.6,621.9 198.8,622.7 C197.0,623.5 196.4,626.9 194.0,621.5 C191.6,616.1 186.2,599.0 184.4,590.4 C182.6,581.8 183.0,575.4 183.2,570.0 C183.4,564.6 184.8,560.4 185.6,558.0 C186.4,555.6 185.2,556.2 188.0,555.6 Z" fill="url(#gSlot)"/>
<path d="M286.3,490.1 C288.4,490.0 291.5,489.9 293.8,491.2 C296.1,492.5 299.1,495.5 300.2,498.1 C301.3,500.7 301.8,499.8 300.2,506.7 C298.6,513.6 293.5,532.6 290.6,539.7 C287.8,546.8 285.6,548.6 283.1,549.3 C280.6,550.0 277.3,548.5 275.7,544.0 C274.1,539.5 273.5,529.7 273.5,522.6 C273.5,515.5 274.4,506.5 275.7,501.3 C276.9,496.1 279.2,493.6 281.0,491.7 C282.8,489.8 284.2,490.2 286.3,490.1 Z" fill="url(#gSlot)"/>
<path d="M391.2,514.5 C393.1,514.9 394.8,516.1 397.8,519.6 C400.9,523.1 408.0,530.6 409.5,535.7 C411.0,540.8 408.6,547.7 406.6,550.4 C404.7,553.1 402.1,554.0 397.8,551.9 C393.5,549.8 383.8,542.1 381.0,538.0 C378.2,533.9 380.1,530.4 381.0,527.0 C381.9,523.6 384.4,519.5 386.1,517.4 C387.8,515.3 389.2,514.1 391.2,514.5 Z" fill="url(#gSlot)"/>
<path d="M464.6,638.2 C468.5,636.4 479.2,632.9 483.0,632.3 C486.8,631.7 485.6,631.1 487.3,634.5 C489.0,637.9 491.9,647.5 493.2,652.8 C494.5,658.0 495.8,662.8 495.4,666.0 C495.0,669.2 494.9,671.8 491.0,671.9 C487.1,672.0 477.0,668.2 472.0,666.7 C467.0,665.2 463.4,665.7 461.0,663.0 C458.6,660.3 457.6,653.9 457.3,650.6 C457.1,647.3 458.3,645.4 459.5,643.3 C460.7,641.2 460.7,640.0 464.6,638.2 Z" fill="url(#gSlot)"/>
<path d="M139.5,692.7 C141.5,693.6 144.6,697.0 146.0,699.1 C147.4,701.2 147.8,699.5 148.2,705.6 C148.6,711.7 148.6,729.5 148.2,735.8 C147.8,742.1 147.4,742.0 146.0,743.4 C144.6,744.8 142.0,745.5 139.5,744.4 C137.0,743.3 132.9,740.8 130.9,736.9 C128.9,733.0 127.9,726.5 127.7,720.7 C127.5,715.0 128.7,706.9 129.8,702.4 C130.9,697.9 132.5,695.3 134.1,693.7 C135.7,692.1 137.5,691.8 139.5,692.7 Z" fill="url(#gSlot)"/>
</g>
<path d="M204.8,559.2 C205.4,562.0 206.3,602.1 206.0,604.7 C205.7,607.3 201.8,594.4 201.2,591.6 C200.6,588.8 198.5,572.6 198.8,570.0 C199.1,567.4 204.2,556.4 204.8,559.2 Z" fill="#fff"/>
<path d="M293.8,491.7 C294.6,491.3 299.9,499.4 300.2,501.3 C300.5,503.2 298.9,512.1 298.0,515.2 C297.1,518.3 289.1,540.4 288.5,539.7 C287.9,539.0 290.2,510.5 290.6,506.7 C291.0,502.9 293.0,492.1 293.8,491.7 Z" fill="#fff"/>
<path d="M397.8,520.4 C398.9,521.3 408.9,534.1 409.5,536.5 C410.1,538.9 407.1,550.6 405.9,550.4 C404.7,550.2 395.7,536.3 394.9,534.3 C394.1,532.3 395.4,525.9 395.6,524.8 C395.8,523.7 396.7,519.5 397.8,520.4 Z" fill="#fff"/>
<path d="M486.6,634.5 C487.8,635.6 492.6,649.5 492.5,652.1 C492.4,654.7 487.3,665.8 485.9,666.7 C484.5,667.6 476.0,664.8 474.9,663.8 C473.8,662.8 472.2,655.8 472.0,654.3 C471.8,652.8 472.2,646.0 472.7,644.8 C473.2,643.6 476.7,639.7 477.8,638.9 C478.9,638.1 485.4,633.4 486.6,634.5 Z" fill="#fff"/>
<path d="M142.2,705.6 C142.6,704.4 147.6,704.3 148.2,706.7 C148.8,709.1 149.6,734.6 149.2,735.8 C148.8,737.0 143.4,724.2 142.8,721.8 C142.2,719.4 141.8,706.8 142.2,705.6 Z" fill="#fff"/>
<polygon points="492.5,652.8 495.4,664.5 486.6,667.5" fill="#2a140a"/>
<path d="M377.0,561.0 C378.9,559.6 381.2,563.3 383.0,566.0 C384.8,568.7 387.4,574.0 388.0,578.0 C388.6,582.0 388.8,587.5 387.0,591.0 C385.2,594.5 379.6,600.2 377.0,600.0 C374.4,599.8 372.0,594.0 371.0,590.0 C370.0,586.0 370.0,579.6 371.0,575.0 C372.0,570.4 375.1,562.4 377.0,561.0 Z" fill="#fff"/></svg>
<div class="lab" style="left:259px;transform:scaleX(0.9)">SHARK</div>
<div class="lab" style="left:681px;transform:scaleX(0.88)">SOLID</div>
</body></html>
